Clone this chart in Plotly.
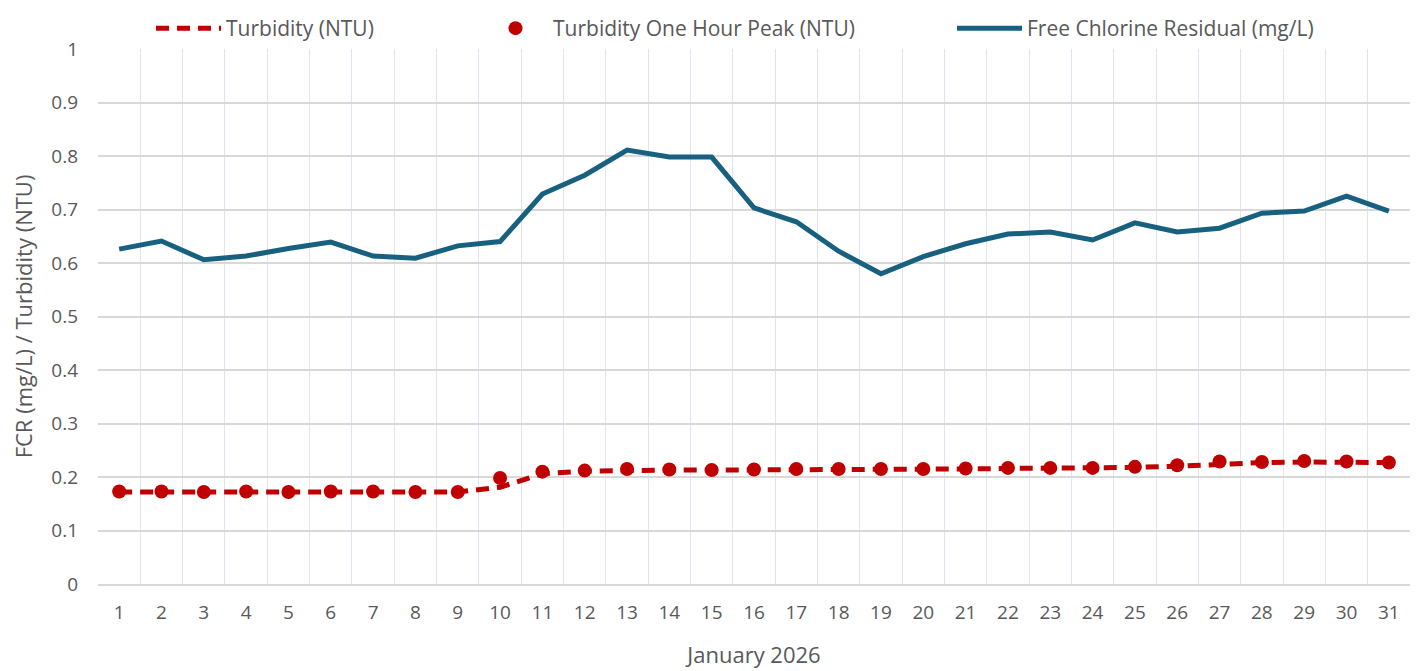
import plotly.graph_objects as go

days = list(range(1, 32))
day_labels = [str(d) for d in days]

turbidity = [0.172, 0.172, 0.172, 0.172, 0.172, 0.172, 0.172, 0.172, 0.172, 0.181,
             0.206, 0.211, 0.213, 0.213, 0.213, 0.213, 0.213, 0.214, 0.214, 0.214,
             0.215, 0.216, 0.216, 0.216, 0.218, 0.220, 0.224, 0.227, 0.228, 0.228, 0.227]

turbidity_peak = [0.173, 0.173, 0.172, 0.173, 0.172, 0.173, 0.173, 0.172, 0.172, 0.198,
                  0.210, 0.212, 0.215, 0.214, 0.213, 0.214, 0.215, 0.215, 0.215, 0.215,
                  0.216, 0.217, 0.217, 0.217, 0.219, 0.222, 0.229, 0.228, 0.230, 0.229, 0.227]

fcr = [0.626, 0.641, 0.606, 0.613, 0.627, 0.639, 0.613, 0.609, 0.632, 0.640,
       0.729, 0.764, 0.811, 0.798, 0.798, 0.703, 0.677, 0.622, 0.580, 0.612,
       0.636, 0.654, 0.658, 0.643, 0.675, 0.658, 0.665, 0.693, 0.697, 0.725, 0.697]

RED = "#c00000"
BLUE = "#17607f"
TXT = "#595959"
FONT = "Open Sans"

W, H = 1410, 663

fig = go.Figure()
fig.add_trace(go.Scatter(
    x=days, y=turbidity, mode="lines", name="Turbidity (NTU)",
    line=dict(color=RED, width=5, dash="13px,8px"), legend="legend", showlegend=True))
fig.add_trace(go.Scatter(
    x=days, y=turbidity_peak, mode="markers", name="Turbidity One Hour Peak (NTU)",
    marker=dict(color=RED, size=14, symbol="circle"), legend="legend2", showlegend=True))
fig.add_trace(go.Scatter(
    x=days, y=fcr, mode="lines", name="Free Chlorine Residual (mg/L)",
    line=dict(color=BLUE, width=5), legend="legend3", showlegend=True))

leg_common = dict(orientation="h", yref="container", yanchor="top", y=1.0,
                  xref="container", xanchor="left",
                  font=dict(family=FONT, size=21, color=TXT),
                  bgcolor="rgba(0,0,0,0)", borderwidth=0, itemwidth=65, tracegroupgap=0)

fig.update_layout(
    width=W, height=H,
    showlegend=True,
    paper_bgcolor="white", plot_bgcolor="white",
    margin=dict(l=90, r=8, t=41, b=87, autoexpand=False),
    font=dict(family=FONT, size=19, color=TXT),
    legend=dict(x=(151 - 8) / W, **leg_common),
    legend2=dict(x=(478 - 8) / W, **leg_common),
    legend3=dict(x=(952 - 8) / W, **leg_common),
    xaxis=dict(
        range=[0.5, 31.5], tickmode="array", tickvals=days, ticktext=day_labels,
        showgrid=False, showline=True, linecolor="#d9d9d9", linewidth=1.5,
        ticks="", zeroline=False, automargin=False,
        tickfont=dict(family=FONT, size=19, color=TXT),
        ticklabelstandoff=10,
        minor=dict(tick0=0.5, dtick=1, showgrid=True, gridcolor="#dce5f0", gridwidth=1, ticks=""),
        title=dict(text="January 2026", font=dict(family=FONT, size=22, color=TXT), standoff=24),
    ),
    yaxis=dict(
        range=[0, 1], tickmode="linear", tick0=0, dtick=0.1,
        showgrid=True, gridcolor="#d9d9d9", gridwidth=1.5,
        zeroline=False, showline=False, ticks="", automargin=False,
        tickfont=dict(family=FONT, size=19, color=TXT),
        ticklabelstandoff=19,
        title=dict(text="FCR (mg/L) / Turbidity (NTU)", font=dict(family=FONT, size=22, color=TXT), standoff=16),
    ),
)

fig.write_html("out.html")
